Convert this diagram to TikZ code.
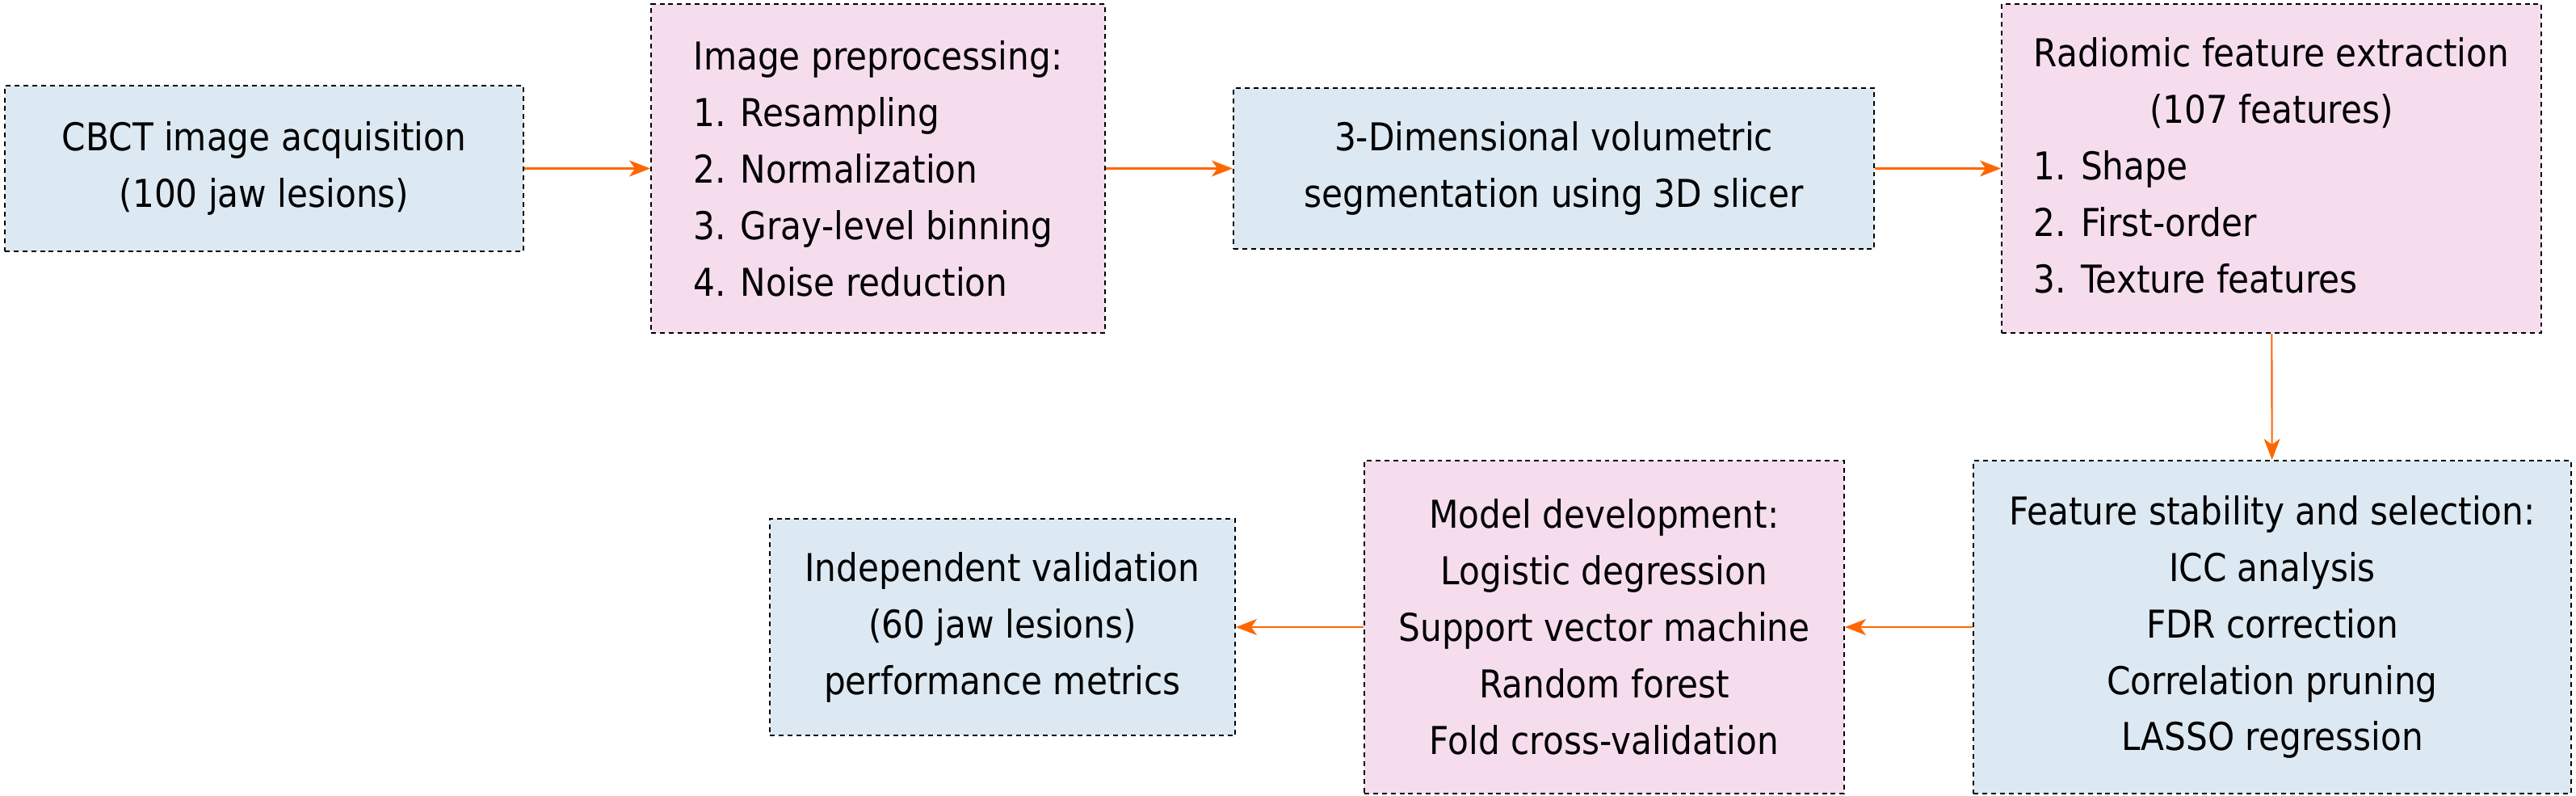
\documentclass[tikz,border=0pt]{standalone}
\usepackage{fontspec}
\setmainfont{DejaVu Sans}[FakeStretch=0.89]
\usetikzlibrary{arrows.meta}
\definecolor{boxblue}{RGB}{220,233,242}
\definecolor{boxpink}{RGB}{245,221,238}
\definecolor{flow}{RGB}{255,102,0}

\begin{document}
\begin{tikzpicture}[>={Stealth[length=2.6mm, width=2mm, inset=0.7mm]},
    stage/.style={draw=black, line width=0.55pt, dash pattern=on 1.7pt off 1.4pt,
        inner sep=0pt, font=\fontsize{13.5}{19.9}\selectfont},
    bluebox/.style={stage, fill=boxblue},
    pinkbox/.style={stage, fill=boxpink},
    flowline/.style={->, draw=flow, line width=0.6pt}]
    % 1. Vùng hiển thị
    \useasboundingbox (0,0) rectangle (31.89,9.84);

    % 2. Hàng trên
    \node[bluebox, minimum width=6.42cm, minimum height=2.05cm, align=center] (acq) at (3.27,7.755)
        {CBCT image acquisition\\(100 jaw lesions)};
    \node[pinkbox, minimum width=5.62cm, minimum height=4.07cm, align=left] (prep) at (10.87,7.755)
        {Image preprocessing:\\1. Resampling\\2. Normalization\\3. Gray-level binning\\4. Noise reduction};
    \node[bluebox, minimum width=7.93cm, minimum height=1.99cm, align=center] (seg) at (19.235,7.755)
        {3-Dimensional volumetric\\segmentation using 3D slicer};
    \node[pinkbox, minimum width=6.68cm, minimum height=4.07cm] (extr) at (28.12,7.755)
        {\begin{tabular}{@{}l@{}}
            Radiomic feature extraction\\
            \multicolumn{1}{@{}c@{}}{(107 features)}\\
            1. Shape\\
            2. First-order\\
            3. Texture features
        \end{tabular}};

    % 3. Hàng dưới
    \node[bluebox, minimum width=7.40cm, minimum height=4.12cm, align=center] (sel) at (28.13,2.08)
        {Feature stability and selection:\\ICC analysis\\FDR correction\\Correlation pruning\\LASSO regression};
    \node[pinkbox, minimum width=5.94cm, minimum height=4.12cm, align=center] (model) at (19.86,2.08)
        {Model development:\\Logistic degression\\Support vector machine\\Random forest\\Fold cross-validation};
    \node[bluebox, minimum width=5.76cm, minimum height=2.68cm, align=center] (valid) at (12.41,2.08)
        {Independent validation\\(60 jaw lesions)\\performance metrics};

    % 4. Mũi tên
    \draw[flowline] (acq) -- (prep);
    \draw[flowline] (prep) -- (seg);
    \draw[flowline] (seg) -- (extr);
    \draw[flowline] (extr) -- (sel);
    \draw[flowline] (sel) -- (model);
    \draw[flowline] (model) -- (valid);
\end{tikzpicture}
\end{document}
